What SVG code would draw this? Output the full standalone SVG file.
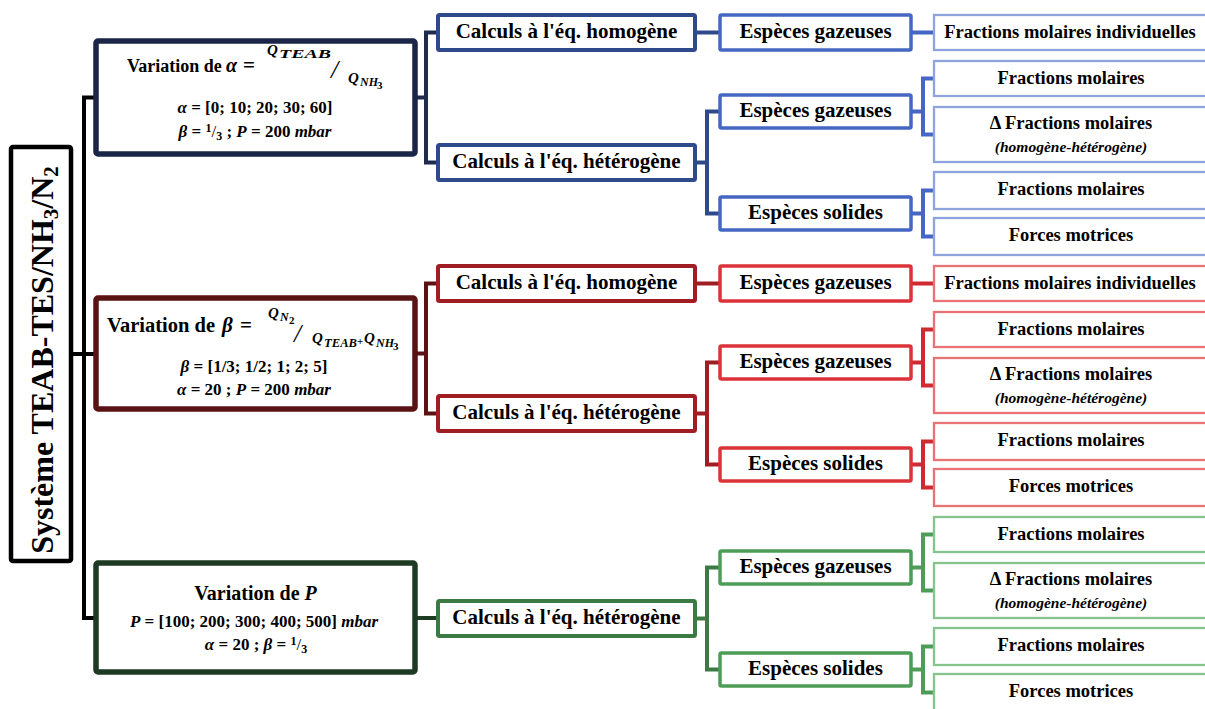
<svg xmlns="http://www.w3.org/2000/svg" width="1205" height="709" viewBox="0 0 1205 709">
<style>
text{font-family:"Liberation Serif","Times New Roman",serif;font-weight:bold;fill:#000}
.i{font-style:italic}
.m{text-anchor:middle}
.f21{font-size:21px}
.f18{font-size:18.5px}
.f15{font-size:15.5px}
.mt{font-size:17px}
rect{fill:#fff}
.root{stroke:#000;stroke-width:4.5}
.b1{stroke:#1b2547;stroke-width:5.5}
.b2{stroke:#2f4a8b;stroke-width:4}
.b3{stroke:#4566c2;stroke-width:3.5}
.b4{stroke:#8fa3dc;stroke-width:2.3}
.r1{stroke:#5a1315;stroke-width:5.5}
.r2{stroke:#a01d23;stroke-width:4}
.r3{stroke:#dc3339;stroke-width:3.5}
.r4{stroke:#e77377;stroke-width:2.3}
.g1{stroke:#1f3a23;stroke-width:5.5}
.g2{stroke:#3c7a43;stroke-width:4}
.g3{stroke:#4e9d57;stroke-width:3.5}
.g4{stroke:#87c48d;stroke-width:2.3}
.cn{fill:none;stroke-width:4;stroke-linejoin:miter}
</style>

<g id="connectors">
<path class="cn" stroke="#000" d="M71,354 H96 M96,97.5 H84 V618 H96"/>
<path class="cn" stroke="#1f2b4d" d="M415,97.5 H426 M438,32.5 H426 V162.5 H438"/>
<path class="cn" stroke="#2f4a8b" d="M695,32.5 H720 M695,162.5 H707 M720,111.5 H707 V213.5 H720"/>
<path class="cn" stroke="#4566c2" d="M911,32.5 H934 M911,111.5 H923 M934,78.5 H923 V134.5 H934 M911,213.5 H923 M934,190.5 H923 V236.5 H934"/>
<path class="cn" stroke="#5c1214" d="M415,353.5 H426 M438,283.5 H426 V413.5 H438"/>
<path class="cn" stroke="#a01d23" d="M695,283.5 H720 M695,413.5 H707 M720,362.5 H707 V464.5 H720"/>
<path class="cn" stroke="#d0292f" d="M911,283.5 H934 M911,362.5 H923 M934,329.5 H923 V385.5 H934 M911,464.5 H923 M934,441.5 H923 V487.5 H934"/>
<path class="cn" stroke="#1e3c22" d="M415,618 H438"/>
<path class="cn" stroke="#3c7a43" d="M695,618.5 H707 M720,567.5 H707 V669.5 H720"/>
<path class="cn" stroke="#4e9d57" d="M911,567.5 H923 M934,534.5 H923 V590.5 H934 M911,669.5 H923 M934,646.5 H923 V692.5 H934"/>
</g>

<g id="root">
<rect class="root" x="11" y="147" width="60" height="414" rx="2"/>
<text transform="translate(53,360) rotate(-90)" class="m" font-size="32">Système TEAB-TES/NH<tspan font-size="21" dy="5">3</tspan><tspan dy="-5">/N</tspan><tspan font-size="21" dy="5">2</tspan></text>
</g>

<g id="var-alpha">
<rect class="b1" x="96" y="41" width="319" height="113" rx="2"/>
<text font-size="18"><tspan x="127" y="72">Variation de</tspan><tspan class="i" x="226" y="72" font-size="20">α</tspan><tspan x="243" y="72" font-size="21">=</tspan><tspan class="i" x="267" y="55" font-size="15">Q</tspan><tspan class="i" x="279" y="58" font-size="12" textLength="52" lengthAdjust="spacingAndGlyphs">TEAB</tspan><tspan class="i" font-weight="normal" x="331" y="78" font-size="26">/</tspan><tspan class="i" x="348" y="83" font-size="15">Q</tspan><tspan class="i" x="360" y="86" font-size="12">NH</tspan><tspan x="377" y="89" font-size="11">3</tspan></text>
<text class="m mt" x="255" y="113"><tspan class="i">α</tspan> = [0; 10; 20; 30; 60]</text>
<text class="m mt" x="255" y="137"><tspan class="i">β</tspan> = <tspan font-size="12" dy="-5">1</tspan><tspan dy="5" font-weight="normal">/</tspan><tspan font-size="12" dy="3">3</tspan><tspan dy="-3"> ; </tspan><tspan class="i">P</tspan> = 200 <tspan class="i">mbar</tspan></text>
</g>

<g id="var-beta">
<rect class="r1" x="96" y="298" width="319" height="111" rx="2"/>
<text font-size="20.5"><tspan x="107" y="332">Variation de</tspan><tspan class="i" x="222" y="332" font-size="21">β</tspan><tspan x="240" y="332" font-size="21">=</tspan><tspan class="i" x="268" y="318" font-size="15">Q</tspan><tspan class="i" x="280" y="321" font-size="12">N</tspan><tspan x="289" y="324" font-size="11">2</tspan><tspan class="i" font-weight="normal" x="294" y="342" font-size="26">/</tspan><tspan class="i" x="312" y="343" font-size="15">Q</tspan><tspan class="i" x="324" y="347" font-size="12" textLength="33" lengthAdjust="spacingAndGlyphs">TEAB</tspan><tspan x="357" y="345" font-size="11">+</tspan><tspan class="i" x="364" y="343" font-size="15">Q</tspan><tspan class="i" x="376" y="347" font-size="12">NH</tspan><tspan x="393" y="350" font-size="11">3</tspan></text>
<text class="m mt" x="254" y="372"><tspan class="i">β</tspan> = [1/3; 1/2; 1; 2; 5]</text>
<text class="m mt" x="254" y="395"><tspan class="i">α</tspan> = 20 ; <tspan class="i">P</tspan> = 200 <tspan class="i">mbar</tspan></text>
</g>

<g id="var-p">
<rect class="g1" x="96" y="563" width="319" height="109" rx="2"/>
<text class="m" x="255.5" y="600" font-size="20">Variation de <tspan class="i">P</tspan></text>
<text class="m mt" x="254" y="627"><tspan class="i">P</tspan> = [100; 200; 300; 400; 500] <tspan class="i">mbar</tspan></text>
<text class="m mt" x="256" y="650"><tspan class="i">α</tspan> = 20 ;  <tspan class="i">β</tspan> = <tspan font-size="12" dy="-5">1</tspan><tspan dy="5" font-weight="normal">/</tspan><tspan font-size="12" dy="3">3</tspan></text>
</g>

<g id="blue-calc-homo"><rect class="b2" x="438" y="15" width="257" height="35" rx="1.5"/><text class="m f21" x="566.5" y="38">Calculs à l'éq. homogène</text></g>
<g id="blue-calc-het"><rect class="b2" x="438" y="145" width="257" height="35" rx="1.5"/><text class="m f21" x="566.5" y="168">Calculs à l'éq. hétérogène</text></g>
<g id="blue-gaz-homo"><rect class="b3" x="720" y="15" width="191" height="35" rx="1.5"/><text class="m f21" x="815.5" y="38">Espèces gazeuses</text></g>
<g id="blue-gaz-het"><rect class="b3" x="720" y="95" width="191" height="33" rx="1.5"/><text class="m f21" x="815.5" y="117">Espèces gazeuses</text></g>
<g id="blue-sol"><rect class="b3" x="720" y="197" width="191" height="33" rx="1.5"/><text class="m f21" x="815.5" y="219">Espèces solides</text></g>
<g id="blue-fmi"><rect class="b4" x="934" y="15" width="274" height="35"/><text class="m f18" x="1070" y="38">Fractions molaires individuelles</text></g>
<g id="blue-fm1"><rect class="b4" x="934" y="61" width="274" height="35"/><text class="m f18" x="1071" y="84">Fractions molaires</text></g>
<g id="blue-dfm"><rect class="b4" x="934" y="107" width="274" height="55"/><text class="m f18" x="1071" y="129">Δ Fractions molaires</text><text class="m f15 i" x="1071" y="152">(homogène-hétérogène)</text></g>
<g id="blue-fm2"><rect class="b4" x="934" y="172" width="274" height="37"/><text class="m f18" x="1071" y="195">Fractions molaires</text></g>
<g id="blue-forces"><rect class="b4" x="934" y="218" width="274" height="37"/><text class="m f18" x="1071" y="241">Forces motrices</text></g>

<g id="red-calc-homo"><rect class="r2" x="438" y="266" width="257" height="35" rx="1.5"/><text class="m f21" x="566.5" y="289">Calculs à l'éq. homogène</text></g>
<g id="red-calc-het"><rect class="r2" x="438" y="396" width="257" height="35" rx="1.5"/><text class="m f21" x="566.5" y="419">Calculs à l'éq. hétérogène</text></g>
<g id="red-gaz-homo"><rect class="r3" x="720" y="266" width="191" height="35" rx="1.5"/><text class="m f21" x="815.5" y="289">Espèces gazeuses</text></g>
<g id="red-gaz-het"><rect class="r3" x="720" y="346" width="191" height="33" rx="1.5"/><text class="m f21" x="815.5" y="368">Espèces gazeuses</text></g>
<g id="red-sol"><rect class="r3" x="720" y="448" width="191" height="33" rx="1.5"/><text class="m f21" x="815.5" y="470">Espèces solides</text></g>
<g id="red-fmi"><rect class="r4" x="934" y="266" width="274" height="35"/><text class="m f18" x="1070" y="289">Fractions molaires individuelles</text></g>
<g id="red-fm1"><rect class="r4" x="934" y="312" width="274" height="35"/><text class="m f18" x="1071" y="335">Fractions molaires</text></g>
<g id="red-dfm"><rect class="r4" x="934" y="358" width="274" height="55"/><text class="m f18" x="1071" y="380">Δ Fractions molaires</text><text class="m f15 i" x="1071" y="403">(homogène-hétérogène)</text></g>
<g id="red-fm2"><rect class="r4" x="934" y="423" width="274" height="37"/><text class="m f18" x="1071" y="446">Fractions molaires</text></g>
<g id="red-forces"><rect class="r4" x="934" y="469" width="274" height="37"/><text class="m f18" x="1071" y="492">Forces motrices</text></g>

<g id="green-calc-het"><rect class="g2" x="438" y="601" width="257" height="35" rx="1.5"/><text class="m f21" x="566.5" y="624">Calculs à l'éq. hétérogène</text></g>
<g id="green-gaz"><rect class="g3" x="720" y="551" width="191" height="33" rx="1.5"/><text class="m f21" x="815.5" y="573">Espèces gazeuses</text></g>
<g id="green-sol"><rect class="g3" x="720" y="653" width="191" height="33" rx="1.5"/><text class="m f21" x="815.5" y="675">Espèces solides</text></g>
<g id="green-fm1"><rect class="g4" x="934" y="517" width="274" height="35"/><text class="m f18" x="1071" y="540">Fractions molaires</text></g>
<g id="green-dfm"><rect class="g4" x="934" y="563" width="274" height="55"/><text class="m f18" x="1071" y="585">Δ Fractions molaires</text><text class="m f15 i" x="1071" y="608">(homogène-hétérogène)</text></g>
<g id="green-fm2"><rect class="g4" x="934" y="628" width="274" height="37"/><text class="m f18" x="1071" y="651">Fractions molaires</text></g>
<g id="green-forces"><rect class="g4" x="934" y="674" width="274" height="37"/><text class="m f18" x="1071" y="697">Forces motrices</text></g>
</svg>
